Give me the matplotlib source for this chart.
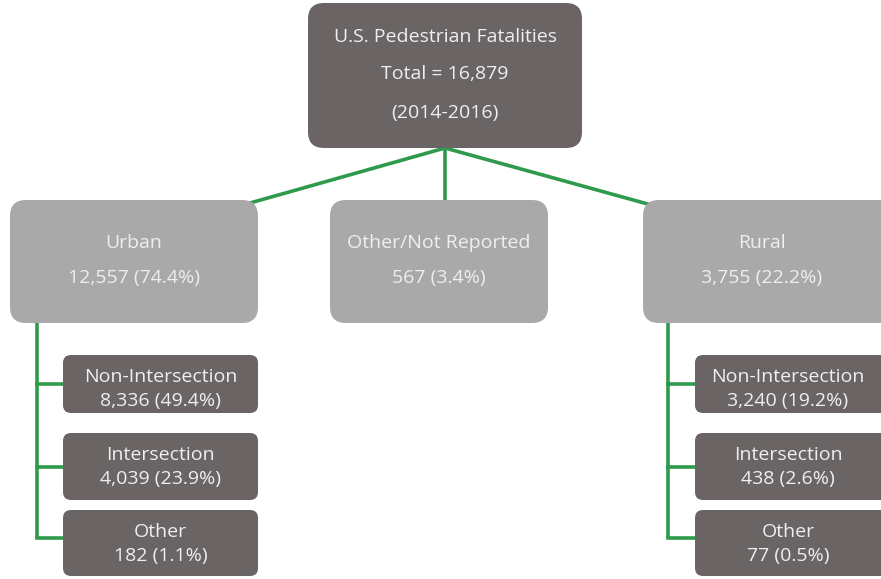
import matplotlib.pyplot as plt
from matplotlib.patches import FancyBboxPatch

plt.rcParams['font.family'] = ['Open Sans', 'DejaVu Sans']

root_lines = ['U.S. Pedestrian Fatalities', 'Total = 16,879', '(2014-2016)']
mid_names = ['Urban', 'Other/Not Reported', 'Rural']
mid_values = ['12,557 (74.4%)', '567 (3.4%)', '3,755 (22.2%)']
leaf_names = ['Non-Intersection', 'Intersection', 'Other']
urban_values = ['8,336 (49.4%)', '4,039 (23.9%)', '182 (1.1%)']
rural_values = ['3,240 (19.2%)', '438 (2.6%)', '77 (0.5%)']

dark = '#6a6464'
light = '#a9a9a9'
green = '#2f9a4c'
txt = '#efefef'
fs = 14

fig = plt.figure(figsize=(8.81, 5.79), dpi=100)
ax = fig.add_axes([0, 0, 1, 1])
ax.set_xlim(0, 881)
ax.set_ylim(579, 0)
ax.axis('off')


def box(x0, y0, x1, y1, color, r):
    p = FancyBboxPatch((x0, y0), x1 - x0, y1 - y0,
                       boxstyle=f'round,pad=0,rounding_size={r}',
                       fc=color, ec='none', zorder=2)
    ax.add_patch(p)


# connectors
lw = 2.6
ax.plot([445, 250], [148, 203], color=green, lw=lw, zorder=1)
ax.plot([445, 445], [148, 202], color=green, lw=lw, zorder=1)
ax.plot([445, 655], [148, 206], color=green, lw=lw, zorder=1)

# root
box(308, 3, 582, 148, dark, 16)
for line, y in zip(root_lines, [37, 74, 113]):
    ax.text(445, y, line, ha='center', va='center', color=txt, fontsize=fs)

# middle level
mid_x = [(10, 258), (330, 548), (643, 895)]
for (x0, x1), name, val in zip(mid_x, mid_names, mid_values):
    box(x0, 200, x1, 323, light, 16)
    cx = (x0 + x1) / 2 if x1 < 881 else (x0 + 881) / 2
    ax.text(cx, 243, name, ha='center', va='center', color=txt, fontsize=fs)
    ax.text(cx, 278, val, ha='center', va='center', color=txt, fontsize=fs)

# leaves
leaf_y = [(355, 413), (433, 500), (510, 576)]
for stem_x, bx0, bx1, values in [(37, 63, 258, urban_values), (668, 695, 895, rural_values)]:
    ax.plot([stem_x, stem_x], [323, (leaf_y[-1][0] + leaf_y[-1][1]) / 2 - 5],
            color=green, lw=lw, zorder=1, solid_capstyle='butt')
    cx = (bx0 + bx1) / 2 if bx1 < 881 else (bx0 + 881) / 2
    for (y0, y1), name, val in zip(leaf_y, leaf_names, values):
        ym = (y0 + y1) / 2
        if y0 == leaf_y[-1][0]:
            ym = ym - 5
        ax.plot([stem_x, bx0 + 2], [ym, ym], color=green, lw=lw, zorder=1)
        box(bx0, y0, bx1, y1, dark, 8)
        ax.text(cx, y0 + 22, name, ha='center', va='center', color=txt, fontsize=fs)
        ax.text(cx, y0 + 46, val, ha='center', va='center', color=txt, fontsize=fs)

fig.savefig('out.png', dpi=100)
